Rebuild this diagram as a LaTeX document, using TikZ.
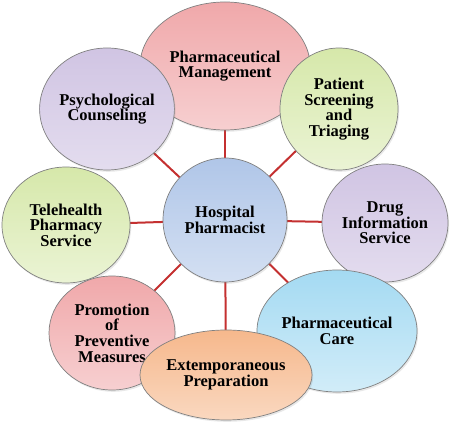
\documentclass[tikz,border=0pt]{standalone}
\usepackage{fontspec}
\setmainfont{Liberation Serif}
\usepackage{xcolor}
\usepackage{tikz}
\usetikzlibrary{shapes.geometric,backgrounds,shadows}
\definecolor{hpink}{RGB}{240,168,170}
\definecolor{hgreen}{RGB}{214,232,170}
\definecolor{hpurple}{RGB}{200,186,222}
\definecolor{hblue}{RGB}{176,198,232}
\definecolor{hsky}{RGB}{164,218,242}
\definecolor{horange}{RGB}{246,184,140}
\definecolor{hred}{RGB}{196,48,48}
\definecolor{hrim}{RGB}{128,128,128}

\begin{document}
\begin{tikzpicture}[
  x=1pt,y=-1pt,
  font=\bfseries\fontsize{16.5}{15.6}\selectfont,
  bubble/.style={ellipse,draw=hrim,line width=0.7pt,inner sep=0pt,align=center,
    drop shadow={opacity=0.18,shadow xshift=1.2pt,shadow yshift=-1.8pt}},
  link/.style={hred,line width=2pt}
]
  \useasboundingbox (0,0) rectangle (450,427);

  \node[bubble,minimum width=170pt,minimum height=128pt,
    top color=hpink,bottom color=hpink!55!white] (mgmt) at (225,66) {Pharmaceutical\\Management};
  \node[bubble,minimum width=134pt,minimum height=122pt,
    top color=hpurple!85!white,bottom color=hpurple!50!white] (psych) at (107,109) {Psychological\\Counseling};
  \node[bubble,minimum width=118pt,minimum height=122pt,
    top color=hgreen,bottom color=hgreen!50!white] (screen) at (339,109) {Patient\\Screening\\and\\Triaging};
  \node[bubble,minimum width=128pt,minimum height=116pt,
    top color=hgreen,bottom color=hgreen!50!white] (tele) at (66,225) {Telehealth\\Pharmacy\\Service};
  \node[bubble,minimum width=126pt,minimum height=118pt,
    top color=hpurple!85!white,bottom color=hpurple!50!white] (drug) at (385,223) {Drug\\Information\\Service};
  \node[bubble,minimum width=160pt,minimum height=122pt,
    top color=hsky,bottom color=hsky!50!white] (care) at (337,331) {Pharmaceutical\\Care};
  \node[bubble,minimum width=126pt,minimum height=114pt,
    top color=hpink,bottom color=hpink!55!white] (promo) at (112,333) {Promotion\\of\\Preventive\\Measures};
  \node[bubble,minimum width=172pt,minimum height=90pt,
    top color=horange,bottom color=horange!55!white] (extemp) at (226,375) {Extemporaneous\\Preparation};
  \node[bubble,minimum width=124pt,minimum height=124pt,
    top color=hblue,bottom color=hblue!55!white] (hp) at (225,220) {Hospital\\Pharmacist};

  % spokes from the centre
  \begin{scope}[on background layer]
    \foreach \n in {mgmt,psych,screen,tele,drug,care,promo,extemp}
      \draw[link] (hp.center) -- (\n.center);
  \end{scope}
\end{tikzpicture}
\end{document}
